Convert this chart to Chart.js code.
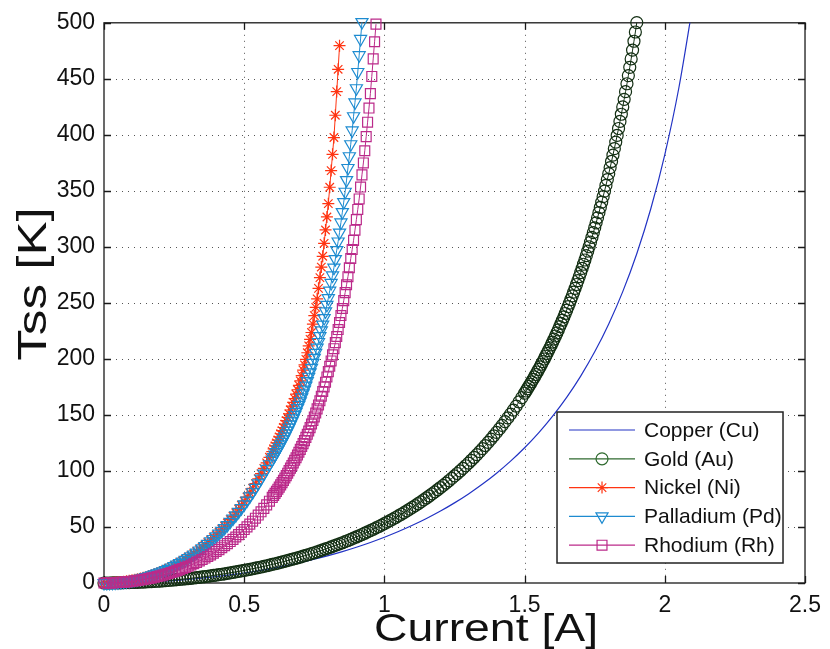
<!DOCTYPE html>
<html>
<head>
<meta charset="utf-8">
<script src="https://cdn.jsdelivr.net/npm/chart.js@4.4.1/dist/chart.umd.min.js"></script>
<style>
html, body { margin: 0; padding: 0; background: #fff; }
#wrap { width: 830px; height: 649px; }
</style>
</head>
<body>
<div id="wrap"><canvas id="tssChart"></canvas></div>
<script>
// current [A], 0.01 A steps
const baseCurrent = [
  0, 0.01, 0.02, 0.03, 0.04, 0.05, 0.06, 0.07, 0.08, 0.09,
  0.1, 0.11, 0.12, 0.13, 0.14, 0.15, 0.16, 0.17, 0.18, 0.19,
  0.2, 0.21, 0.22, 0.23, 0.24, 0.25, 0.26, 0.27, 0.28, 0.29,
  0.3, 0.31, 0.32, 0.33, 0.34, 0.35, 0.36, 0.37, 0.38, 0.39,
  0.4, 0.41, 0.42, 0.43, 0.44, 0.45, 0.46, 0.47, 0.48, 0.49,
  0.5, 0.51, 0.52, 0.53, 0.54, 0.55, 0.56, 0.57, 0.58, 0.59,
  0.6, 0.61, 0.62, 0.63, 0.64, 0.65, 0.66, 0.67, 0.68, 0.69,
  0.7, 0.71, 0.72, 0.73, 0.74, 0.75, 0.76, 0.77, 0.78, 0.79,
  0.8, 0.81, 0.82, 0.83, 0.84, 0.85, 0.86, 0.87, 0.88, 0.89,
  0.9, 0.91, 0.92, 0.93, 0.94, 0.95, 0.96, 0.97, 0.98, 0.99,
  1, 1.01, 1.02, 1.03, 1.04, 1.05, 1.06, 1.07, 1.08, 1.09,
  1.1, 1.11, 1.12, 1.13, 1.14, 1.15, 1.16, 1.17, 1.18, 1.19,
  1.2, 1.21, 1.22, 1.23, 1.24, 1.25, 1.26, 1.27, 1.28, 1.29,
  1.3, 1.31, 1.32, 1.33, 1.34, 1.35, 1.36, 1.37, 1.38, 1.39,
  1.4, 1.41, 1.42, 1.43, 1.44, 1.45, 1.46, 1.47, 1.48, 1.49
];
// finer steps on the steep parts
const tailCurrent = [
  0.6, 0.605, 0.61, 0.615, 0.62, 0.625, 0.63, 0.635, 0.64, 0.645,
  0.65, 0.655, 0.66, 0.665, 0.67, 0.675, 0.68, 0.685, 0.69, 0.695,
  0.7, 0.705, 0.71, 0.715, 0.72, 0.725, 0.73, 0.735, 0.74, 0.745,
  0.75, 0.755, 0.76, 0.765, 0.77, 0.775, 0.78, 0.785, 0.79, 0.795,
  0.8, 0.805, 0.81, 0.815, 0.82, 0.825, 0.83, 0.835, 0.84, 0.845,
  0.85, 0.855, 0.86, 0.865, 0.87, 0.875, 0.88, 0.885, 0.89, 0.895,
  0.9, 0.905, 0.91, 0.915, 0.92, 0.925, 0.93, 0.935, 0.94, 0.945,
  0.95, 0.955, 0.96, 0.965, 0.97
];
const auTailCurrent = [
  1.5, 1.505, 1.51, 1.515, 1.52, 1.525, 1.53, 1.535, 1.54, 1.545,
  1.55, 1.555, 1.56, 1.565, 1.57, 1.575, 1.58, 1.585, 1.59, 1.595,
  1.6, 1.605, 1.61, 1.615, 1.62, 1.625, 1.63, 1.635, 1.64, 1.645,
  1.65, 1.655, 1.66, 1.665, 1.67, 1.675, 1.68, 1.685, 1.69, 1.695,
  1.7, 1.705, 1.71, 1.715, 1.72, 1.725, 1.73, 1.735, 1.74, 1.745,
  1.75, 1.755, 1.76, 1.765, 1.77, 1.775, 1.78, 1.785, 1.79, 1.795,
  1.8, 1.805, 1.81, 1.815, 1.82, 1.825, 1.83, 1.835, 1.84, 1.845,
  1.85, 1.855, 1.86, 1.865, 1.87, 1.875, 1.88, 1.885, 1.89, 1.895,
  1.9
];

// copper is a plain line, read at coarser steps
const cuCurrent = [
  0, 0.05, 0.1, 0.15, 0.2, 0.25, 0.3, 0.35, 0.4, 0.45,
  0.5, 0.55, 0.6, 0.65, 0.7, 0.75, 0.8, 0.85, 0.9, 0.95,
  1, 1.05, 1.1, 1.15, 1.2, 1.25, 1.3, 1.35, 1.4, 1.45,
  1.5, 1.55, 1.6, 1.65, 1.7, 1.75, 1.8, 1.85, 1.9, 1.95,
  2, 2.05, 2.1
];
const cuTemp = [
  0, 0.09, 0.34, 0.77, 1.38, 2.17, 3.13, 4.29, 5.63, 7.18,
  8.93, 10.9, 13.1, 15.54, 18.24, 21.21, 24.46, 28.03, 31.93, 36.19,
  40.85, 45.93, 51.49, 57.57, 64.21, 71.51, 79.5, 88.31, 98.03, 108.77,
  120.72, 134.02, 148.93, 165.69, 184.7, 206.33, 231.24, 260.06, 293.9, 334.0,
  382.4, 441.8, 516.1
];

// gold: 0 .. 1.49 on baseCurrent, then auTailCurrent
const auTemp = [
  0, 0, 0.02, 0.04, 0.07, 0.11, 0.15, 0.21, 0.27, 0.35,
  0.43, 0.52, 0.62, 0.73, 0.84, 0.97, 1.1, 1.25, 1.4, 1.56,
  1.73, 1.91, 2.09, 2.29, 2.5, 2.71, 2.94, 3.17, 3.41, 3.66,
  3.93, 4.2, 4.48, 4.77, 5.07, 5.38, 5.7, 6.03, 6.37, 6.72,
  7.08, 7.45, 7.83, 8.22, 8.62, 9.03, 9.45, 9.89, 10.33, 10.79,
  11.26, 11.73, 12.22, 12.73, 13.24, 13.76, 14.3, 14.85, 15.41, 15.99,
  16.58, 17.17, 17.79, 18.41, 19.05, 19.7, 20.37, 21.05, 21.75, 22.46,
  23.18, 23.92, 24.67, 25.44, 26.22, 27.02, 27.84, 28.67, 29.52, 30.38,
  31.26, 32.16, 33.08, 34.02, 34.97, 35.94, 36.93, 37.94, 38.97, 40.02,
  41.09, 42.18, 43.29, 44.43, 45.58, 46.76, 47.97, 49.19, 50.44, 51.71,
  53.01, 54.33, 55.68, 57.06, 58.46, 59.9, 61.35, 62.85, 64.36, 65.92,
  67.5, 69.11, 70.76, 72.44, 74.15, 75.9, 77.68, 79.51, 81.37, 83.26,
  85.21, 87.19, 89.21, 91.27, 93.38, 95.54, 97.75, 99.99, 102.3, 104.65,
  107.06, 109.53, 112.04, 114.62, 117.25, 119.94, 122.7, 125.53, 128.43, 131.39,
  134.44, 137.53, 140.72, 144.0, 147.35, 150.78, 154.31, 157.92, 161.62, 165.44,
  169.34, 171.35, 173.37, 175.42, 177.5, 179.6, 181.73, 183.91, 186.11, 188.33,
  190.59, 192.88, 195.23, 197.57, 199.94, 202.39, 204.86, 207.35, 209.88, 212.46,
  215.06, 217.73, 220.44, 223.16, 225.92, 228.76, 231.65, 234.54, 237.49, 240.52,
  243.56, 246.67, 249.8, 253.05, 256.29, 259.63, 262.98, 266.43, 269.93, 273.47,
  277.1, 280.75, 284.51, 288.31, 292.16, 296.15, 300.13, 304.26, 308.44, 312.68,
  317.04, 321.43, 325.96, 330.52, 335.18, 339.98, 344.83, 349.8, 354.85, 360.06,
  365.33, 370.74, 376.23, 381.86, 387.67, 393.5, 399.46, 405.65, 411.98, 418.37,
  424.91, 431.68, 438.54, 445.62, 452.91, 460.24, 467.8, 475.63, 483.54, 491.79,
  500.2
];

// nickel, palladium, rhodium: 0 .. 0.59 on baseCurrent, then tailCurrent
const niTemp = [
  0, 0.02, 0.09, 0.21, 0.38, 0.59, 0.85, 1.16, 1.51, 1.92,
  2.37, 2.87, 3.42, 4.02, 4.68, 5.38, 6.14, 6.95, 7.81, 8.73,
  9.7, 10.73, 11.82, 12.97, 14.17, 15.44, 16.77, 18.16, 19.63, 21.15,
  22.75, 24.41, 26.15, 27.97, 29.86, 31.83, 33.88, 36.02, 38.24, 40.55,
  42.96, 45.46, 48.07, 50.77, 53.59, 56.52, 59.55, 62.72, 66.0, 69.43,
  72.98, 76.68, 80.53, 84.53, 88.71, 93.05, 97.56, 102.27, 107.18, 112.2,
  117.2, 119.8, 122.4, 125.0, 127.6, 130.4, 133.2, 136.0, 138.8, 141.8,
  144.9, 147.9, 151.0, 154.4, 157.8, 161.2, 164.6, 168.5, 172.5, 176.4,
  180.4, 185.1, 190.0, 194.7, 199.6, 205.5, 211.6, 217.5, 223.6, 231.0,
  238.6, 246.0, 253.6, 263.0, 272.6, 282.0, 291.6, 303.2, 315.1, 326.7,
  338.6, 353.2, 368.1, 382.6, 397.6, 417.5, 438.6, 458.5, 479.6
];

const pdTemp = [
  0, 0.02, 0.09, 0.21, 0.37, 0.58, 0.83, 1.13, 1.48, 1.87,
  2.32, 2.81, 3.35, 3.94, 4.57, 5.26, 6.0, 6.79, 7.63, 8.52,
  9.47, 10.48, 11.53, 12.65, 13.82, 15.05, 16.34, 17.7, 19.11, 20.59,
  22.13, 23.75, 25.43, 27.18, 29.0, 30.9, 32.88, 34.93, 37.07, 39.28,
  41.59, 43.98, 46.47, 49.06, 51.74, 54.53, 57.42, 60.41, 63.53, 66.77,
  70.12, 73.61, 77.23, 80.98, 84.9, 88.95, 93.16, 97.54, 101.8, 106.0,
  110.2, 112.4, 114.6, 116.8, 119.0, 121.3, 123.7, 126.0, 128.4, 130.9,
  133.5, 136.0, 138.6, 141.4, 144.2, 147.0, 149.8, 152.8, 156.0, 159.0,
  162.2, 165.6, 169.2, 172.6, 176.2, 180.1, 184.1, 188.0, 192.0, 196.4,
  201.0, 205.4, 210.0, 215.1, 220.3, 225.4, 230.6, 236.4, 242.4, 248.2,
  254.2, 260.9, 267.8, 274.5, 281.4, 289.1, 297.1, 304.8, 312.8, 321.8,
  331.0, 340.0, 349.2, 359.6, 370.4, 380.9, 391.6, 403.9, 416.6, 428.9,
  441.6, 456.1, 471.1, 485.6, 500.6
];

const rhTemp = [
  0, 0.02, 0.06, 0.14, 0.25, 0.39, 0.56, 0.76, 1.0, 1.26,
  1.56, 1.89, 2.26, 2.65, 3.08, 3.55, 4.05, 4.58, 5.15, 5.75,
  6.39, 7.07, 7.78, 8.54, 9.33, 10.16, 11.04, 11.95, 12.91, 13.91,
  14.96, 16.05, 17.19, 18.38, 19.62, 20.91, 22.25, 23.65, 25.1, 26.61,
  28.18, 29.81, 31.51, 33.27, 35.11, 37.01, 38.98, 41.04, 43.17, 45.39,
  47.69, 50.09, 52.57, 55.16, 57.85, 60.65, 63.56, 66.59, 69.74, 73.02,
  76.44, 78.2, 80.0, 81.8, 83.72, 85.6, 87.6, 89.6, 91.64, 93.7,
  95.87, 98.0, 100.3, 102.5, 104.8, 107.1, 109.5, 111.8, 114.2, 116.7,
  119.3, 121.8, 124.4, 127.1, 130.0, 132.7, 135.6, 138.7, 141.9, 145.0,
  148.2, 151.7, 155.4, 158.9, 162.6, 166.7, 170.9, 175.0, 179.2, 183.9,
  188.7, 193.4, 198.2, 203.6, 209.1, 214.5, 220.0, 226.2, 232.5, 238.7,
  245.0, 252.0, 259.2, 266.2, 273.4, 281.4, 289.6, 297.6, 305.8, 314.9,
  324.3, 333.4, 342.8, 353.4, 364.3, 374.9, 385.8, 398.4, 411.3, 423.9,
  436.8, 452.1, 467.8, 483.1, 498.8
];

const seriesLabels = ['Copper (Cu)', 'Gold (Au)', 'Nickel (Ni)', 'Palladium (Pd)', 'Rhodium (Rh)'];
const xTitle = 'Current [A]';
const yTitle = 'Tss [K]';

const FONT = '"Liberation Sans", Arial, Helvetica, sans-serif';

const lowCurrent = baseCurrent.slice(0, 60).concat(tailCurrent);
const auCurrent = baseCurrent.concat(auTailCurrent);

function toPoints(xs, ys) {
    return ys.map((y, i) => ({ x: xs[i], y: y }));
}

// dotted grid, box and inward ticks, like a MATLAB axes
const frame = {
    id: 'frame',
    beforeDatasetsDraw(chart) {
        const { ctx, chartArea: a, scales } = chart;
        const xs = scales.x.ticks.map(t => Math.round(scales.x.getPixelForValue(t.value)) + 0.5);
        const ys = scales.y.ticks.map(t => Math.round(scales.y.getPixelForValue(t.value)) + 0.5);
        ctx.save();
        ctx.strokeStyle = '#555';
        ctx.lineWidth = 1;
        ctx.setLineDash([1, 5]);
        ctx.beginPath();
        xs.slice(1, -1).forEach(px => { ctx.moveTo(px, a.top); ctx.lineTo(px, a.bottom); });
        ys.slice(1, -1).forEach(py => { ctx.moveTo(a.left, py); ctx.lineTo(a.right, py); });
        ctx.stroke();
        ctx.setLineDash([]);
        ctx.strokeStyle = '#1a1a1a';
        ctx.lineWidth = 1.3;
        ctx.beginPath();
        xs.forEach(px => {
            ctx.moveTo(px, a.bottom); ctx.lineTo(px, a.bottom - 7);
            ctx.moveTo(px, a.top); ctx.lineTo(px, a.top + 7);
        });
        ys.forEach(py => {
            ctx.moveTo(a.left, py); ctx.lineTo(a.left + 7, py);
            ctx.moveTo(a.right, py); ctx.lineTo(a.right - 7, py);
        });
        ctx.stroke();
        ctx.strokeRect(a.left, a.top, a.right - a.left, a.bottom - a.top);
        ctx.restore();
    }
};

const legendBox = {
    id: 'legendBox',
    afterDatasetsDraw(chart) {
        const { ctx, chartArea: a } = chart;
        const w = 226, h = 151, rowH = 28.8;
        const x0 = a.right - 22 - w, y0 = a.bottom - 20 - h;
        ctx.save();
        ctx.fillStyle = '#fff';
        ctx.fillRect(x0, y0, w, h);
        ctx.strokeStyle = '#222';
        ctx.lineWidth = 1.5;
        ctx.strokeRect(x0, y0, w, h);
        chart.data.datasets.forEach((ds, i) => {
            const cy = y0 + 18 + i * rowH;
            ctx.strokeStyle = ds.legendColor || ds.borderColor;
            ctx.lineWidth = 1.2;
            ctx.beginPath();
            ctx.moveTo(x0 + 12, cy);
            ctx.lineTo(x0 + 78, cy);
            ctx.stroke();
            if (ds.pointRadius > 0 && Chart.helpers && Chart.helpers.drawPoint) {
                ctx.fillStyle = 'rgba(0,0,0,0)';
                Chart.helpers.drawPoint(ctx, {
                    pointStyle: ds.pointStyle,
                    radius: ds.pointRadius,
                    rotation: ds.pointRotation || 0,
                    borderWidth: 1.2
                }, x0 + 45, cy);
            }
            ctx.fillStyle = '#111';
            ctx.font = '21px ' + FONT;
            ctx.textAlign = 'left';
            ctx.textBaseline = 'middle';
            ctx.fillText(ds.label, x0 + 87, cy + 1);
        });
        ctx.restore();
    }
};

// axis labels are drawn a little wide, as in the printed figure
const axisTitles = {
    id: 'axisTitles',
    afterDraw(chart) {
        const { ctx, chartArea: a } = chart;
        ctx.save();
        ctx.fillStyle = '#111';
        ctx.textAlign = 'center';
        ctx.textBaseline = 'alphabetic';
        ctx.font = '38px ' + FONT;
        ctx.save();
        ctx.translate(486, a.bottom + 58);
        ctx.scale(1.22, 1);
        ctx.fillText(xTitle, 0, 0);
        ctx.restore();
        ctx.translate(46, 284);
        ctx.rotate(-Math.PI / 2);
        ctx.scale(1.28, 1);
        ctx.font = '40px ' + FONT;
        ctx.fillText(yTitle, 0, 0);
        ctx.restore();
    }
};

function markerSeries(label, xs, temps, color, style, radius, rotation, order) {
    return {
        label: label,
        data: toPoints(xs, temps),
        borderColor: color,
        backgroundColor: 'rgba(0,0,0,0)',
        borderWidth: 1,
        pointStyle: style,
        pointRadius: radius,
        pointRotation: rotation,
        pointBorderWidth: 1.2,
        pointBackgroundColor: 'rgba(0,0,0,0)',
        clip: false,
        order: order
    };
}

window.onload = function() {
    const ctx = document.getElementById('tssChart').getContext('2d');
    const gold = markerSeries(seriesLabels[1], auCurrent, auTemp, '#132f13', 'circle', 6, 0, 3);
    gold.legendColor = '#2f6a2f';
    new Chart(ctx, {
        type: 'line',
        data: {
            datasets: [
                {
                    label: seriesLabels[0],
                    data: toPoints(cuCurrent, cuTemp),
                    borderColor: '#2233c4',
                    backgroundColor: 'rgba(0,0,0,0)',
                    borderWidth: 1.2,
                    pointRadius: 0,
                    cubicInterpolationMode: 'monotone',
                    order: 4
                },
                gold,
                markerSeries(seriesLabels[2], lowCurrent, niTemp, '#ff3412', 'star', 6, 0, 2),
                markerSeries(seriesLabels[3], lowCurrent, pdTemp, '#1d8bd0', 'triangle', 7, 180, 1),
                markerSeries(seriesLabels[4], lowCurrent, rhTemp, '#bb2a8a', 'rect', 7, 0, 0)
            ]
        },
        options: {
            responsive: true,
            maintainAspectRatio: false,
            animation: false,
            events: [],
            layout: { padding: { top: 20, right: 22, left: 0, bottom: 0 } },
            plugins: {
                legend: { display: false },
                tooltip: { enabled: false }
            },
            scales: {
                x: {
                    type: 'linear',
                    min: 0,
                    max: 2.5,
                    ticks: {
                        stepSize: 0.5, color: '#111', padding: 9,
                        font: { family: FONT, size: 23 },
                        callback: v => String(v)
                    },
                    grid: { display: false, drawTicks: false },
                    border: { display: false },
                    afterFit: function(scale) { scale.height = 66; }
                },
                y: {
                    type: 'linear',
                    min: 0,
                    max: 500,
                    ticks: {
                        stepSize: 50, color: '#111', padding: 9,
                        font: { family: FONT, size: 23 },
                        callback: v => String(v)
                    },
                    grid: { display: false, drawTicks: false },
                    border: { display: false },
                    afterFit: function(scale) { scale.width = 104; }
                }
            }
        },
        plugins: [frame, legendBox, axisTitles]
    });
};
</script>
</body>
</html>
